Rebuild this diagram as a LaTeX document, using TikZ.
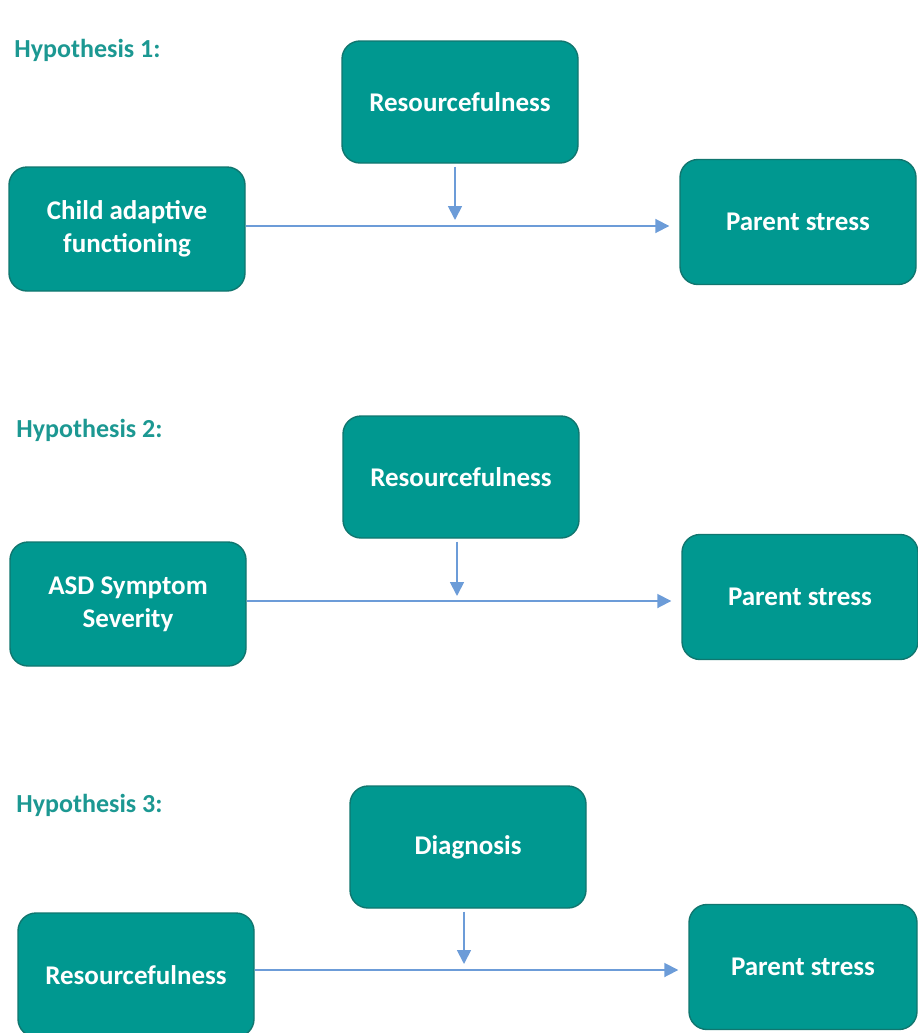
\documentclass[tikz,border=0pt]{standalone}
\usepackage{fontspec}
\setmainfont{Carlito}
\usepackage{xcolor}
\usetikzlibrary{positioning}
\usetikzlibrary{arrows.meta}

\definecolor{boxteal}{RGB}{0,152,144}
\definecolor{edgeteal}{RGB}{16,118,111}
\definecolor{hypteal}{RGB}{28,152,146}
\definecolor{linkblue}{RGB}{108,156,216}

\tikzset{
  varbox/.style={rectangle, rounded corners=9pt, fill=boxteal, draw=edgeteal,
    line width=0.7pt, text=white, font=\fontsize{13.5}{16.5}\selectfont\bfseries,
    align=center, minimum width=118pt, minimum height=61pt, inner sep=0pt},
  hyplabel/.style={anchor=west, text=hypteal, inner sep=0pt,
    font=\fontsize{13}{15}\selectfont\bfseries},
  link/.style={draw=linkblue, line width=0.9pt, -{Triangle[length=7pt,width=7pt]}}
}

\begin{document}
\begin{tikzpicture}[x=0.5pt, y=-0.5pt]

\useasboundingbox (0,0) rectangle (917,1033);

% Hypothesis 1
\node (hypA) [hyplabel] at (14,50) {Hypothesis 1:};
\node (modA) [varbox] at (460,102) {Resourcefulness};
\node (predA) [varbox, minimum height=62pt] at (127,229) {Child adaptive\\functioning};
\node (outA) [varbox, minimum height=62.5pt] at (798,222) {Parent stress};
\coordinate (hitA) at (455,220);
\draw [link, shorten >=5pt] (predA.east |- 0,226) -- (outA.west |- 0,226);
\draw [link, shorten <=1.5pt] (modA.south -| hitA) -- (hitA);

% Hypothesis 2
\node (hypB) [hyplabel] at (16,430) {Hypothesis 2:};
\node (modB) [varbox] at (461,477) {Resourcefulness};
\node (predB) [varbox, minimum height=62pt] at (128,604) {ASD Symptom\\Severity};
\node (outB) [varbox, minimum height=62.5pt] at (800,597) {Parent stress};
\coordinate (hitB) at (457,596);
\draw [link, shorten >=5pt] (predB.east |- 0,601) -- (outB.west |- 0,601);
\draw [link, shorten <=1.5pt] (modB.south -| hitB) -- (hitB);

% Hypothesis 3
\node (hypC) [hyplabel] at (16,805) {Hypothesis 3:};
\node (modC) [varbox] at (468,847) {Diagnosis};
\node (predC) [varbox, minimum height=62pt] at (136,975) {Resourcefulness};
\node (outC) [varbox, minimum height=62.5pt, minimum width=114pt] at (803,967) {Parent stress};
\coordinate (hitC) at (464,964);
\draw [link, shorten >=5pt] (predC.east |- 0,970) -- (outC.west |- 0,970);
\draw [link, shorten <=1.5pt] (modC.south -| hitC) -- (hitC);

\end{tikzpicture}
\end{document}
